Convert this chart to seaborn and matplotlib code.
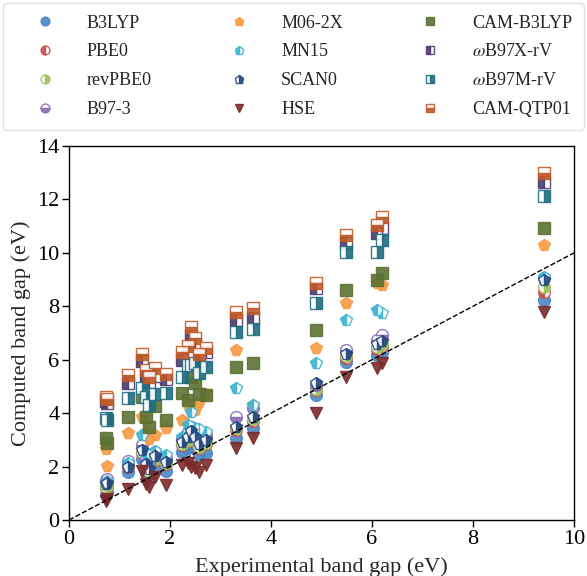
import numpy as np
import pandas as pd
import matplotlib
matplotlib.use("Agg")
import matplotlib.pyplot as plt
import seaborn as sns

# Experimental band gaps (eV)
exp_gap = [0.74, 0.76, 1.17, 1.45, 1.52, 1.58, 1.70, 1.92, 2.23, 2.35, 2.42,
           2.50, 2.58, 2.72, 3.30, 3.65, 4.90, 5.48, 6.10, 6.20, 9.40]

# Computed band gaps (eV) per functional
b3lyp     = [0.95, 1.05, 1.80, 2.30, 1.75, 1.60, 2.00, 1.85, 2.55, 2.70, 2.85, 2.75, 2.45, 2.50, 3.06, 3.45, 4.68, 5.93, 6.18, 6.30, 8.24]
pbe0      = [1.20, 1.28, 2.00, 2.50, 1.98, 1.80, 2.25, 2.10, 2.80, 2.95, 3.15, 3.00, 2.70, 2.85, 3.38, 3.72, 4.85, 6.08, 6.40, 6.50, 8.55]
revpbe0   = [1.25, 1.30, 2.05, 2.55, 2.02, 1.85, 2.30, 2.15, 2.85, 3.00, 3.20, 3.05, 2.75, 2.90, 3.45, 3.78, 4.92, 6.15, 6.48, 6.58, 8.72]
b97_3     = [1.48, 1.52, 2.22, 2.80, 2.30, 2.12, 2.55, 2.32, 3.05, 3.30, 3.50, 3.30, 3.00, 3.20, 3.87, 4.19, 5.05, 6.37, 6.74, 6.93, 9.05]
m06_2x    = [2.65, 2.02, 3.25, 3.85, 3.30, 3.05, 3.18, 3.45, 3.75, 4.30, 4.35, 4.10, 4.40, 4.70, 6.37, 4.30, 6.43, 8.12, 8.87, 8.80, 10.30]
mn15      = [1.40, 1.45, 2.15, 3.18, 2.50, 2.30, 2.60, 2.43, 3.10, 3.55, 4.06, 3.45, 3.40, 3.30, 4.93, 4.31, 5.87, 7.49, 7.87, 7.76, 9.11]
scan0     = [1.35, 1.38, 2.00, 2.62, 2.10, 1.92, 2.38, 2.18, 2.92, 3.10, 3.32, 3.12, 2.85, 3.00, 3.50, 3.87, 5.13, 6.22, 6.58, 6.70, 8.99]
hse       = [0.70, 0.78, 1.15, 1.85, 1.35, 1.22, 1.62, 1.30, 2.05, 2.12, 2.00, 1.95, 1.80, 2.05, 2.70, 3.06, 4.00, 5.37, 5.69, 5.87, 7.80]
cam_b3lyp = [3.07, 2.90, 3.87, 4.62, 3.85, 3.50, 4.25, 3.75, 4.75, 4.50, 5.37, 5.12, 4.70, 4.68, 5.74, 5.89, 7.12, 8.61, 8.99, 9.25, 10.92]
wb97x_rv  = [4.45, 4.38, 5.13, 5.95, 5.40, 5.15, 5.40, 5.28, 6.00, 6.25, 6.90, 6.60, 6.00, 6.30, 7.49, 7.55, 8.69, 10.37, 10.74, 10.94, 12.67]
wb97m_rv  = [3.80, 3.75, 4.57, 4.95, 4.60, 4.30, 4.70, 4.75, 5.37, 5.80, 5.80, 5.87, 5.50, 5.74, 7.05, 7.14, 8.12, 10.05, 10.05, 10.49, 12.11]
cam_qtp01 = [4.62, 4.52, 5.43, 6.20, 5.62, 5.35, 5.70, 5.45, 6.30, 6.50, 7.22, 6.80, 6.20, 6.43, 7.80, 7.93, 8.87, 10.67, 11.05, 11.35, 12.98]

labels = ["B3LYP", "PBE0", "revPBE0", "B97-3", "M06-2X", "MN15", "SCAN0", "HSE",
          "CAM-B3LYP", r"$\omega$B97X-rV", r"$\omega$B97M-rV", "CAM-QTP01"]
series = [b3lyp, pbe0, revpbe0, b97_3, m06_2x, mn15, scan0, hse,
          cam_b3lyp, wb97x_rv, wb97m_rv, cam_qtp01]
colors = ["#4a87c8", "#cc4c4c", "#9bc25a", "#8b6bb5", "#f89a45", "#40b3d1",
          "#25497c", "#7b2b2b", "#5c7233", "#4c3b6f", "#206e80", "#c05a2a"]
markers = ["o", "o", "o", "o", "p", "p", "p", "v", "s", "s", "s", "s"]
fills = ["full", "left", "right", "bottom", "full", "left", "right", "full",
         "full", "left", "right", "bottom"]

sns.set_theme(style="ticks")
plt.rcParams["font.family"] = ["Liberation Serif", "DejaVu Serif"]
plt.rcParams["mathtext.fontset"] = "stix"

fig = plt.figure(figsize=(5.87, 5.76), dpi=100)
ax = fig.add_axes([69 / 587, 1 - 520 / 576, (574 - 69) / 587, (520 - 146) / 576])

handles = []
for lab, vals, col, mk, fs in zip(labels, series, colors, markers, fills):
    df = pd.DataFrame({"exp": exp_gap, "calc": vals})
    sns.lineplot(data=df, x="exp", y="calc", ax=ax, estimator=None, sort=False,
                 legend=False, linestyle="", marker=mk, fillstyle=fs,
                 color=col, markerfacecolor=col, markerfacecoloralt="white",
                 markeredgecolor=col, markeredgewidth=1.0, markersize=8.5,
                 alpha=0.9)
    line = ax.get_lines()[-1]
    line.set_label(lab)
    handles.append(line)

ax.axline((0, 0), slope=1, color="black", linestyle="--", linewidth=1.0, zorder=5)

ax.set_xlim(0, 10)
ax.set_ylim(0, 14)
ax.set_xticks([0, 2, 4, 6, 8, 10])
ax.set_yticks([0, 2, 4, 6, 8, 10, 12, 14])
ax.set_xlabel("Experimental band gap (eV)", fontsize=16, labelpad=6)
ax.set_ylabel("Computed band gap (eV)", fontsize=16, labelpad=4)
ax.tick_params(axis="both", direction="out", length=5, width=1, labelsize=16,
               colors="black", pad=2)
for sp in ax.spines.values():
    sp.set_visible(True)
    sp.set_color("black")
    sp.set_linewidth(1.0)

leg = fig.legend(handles=handles, labels=labels, ncol=3, loc="upper left",
                 bbox_to_anchor=(3 / 587, 1 - 3 / 576, 581 / 587, 0.0001),
                 mode="expand", borderaxespad=0, fontsize=13, markerscale=0.75,
                 handlelength=3.3, handletextpad=0.7, labelspacing=0.65,
                 borderpad=0.65, frameon=True, fancybox=True)
leg.get_frame().set_edgecolor("0.85")
leg.get_frame().set_linewidth(1.0)

fig.savefig("out.png", dpi=100, facecolor="white")
